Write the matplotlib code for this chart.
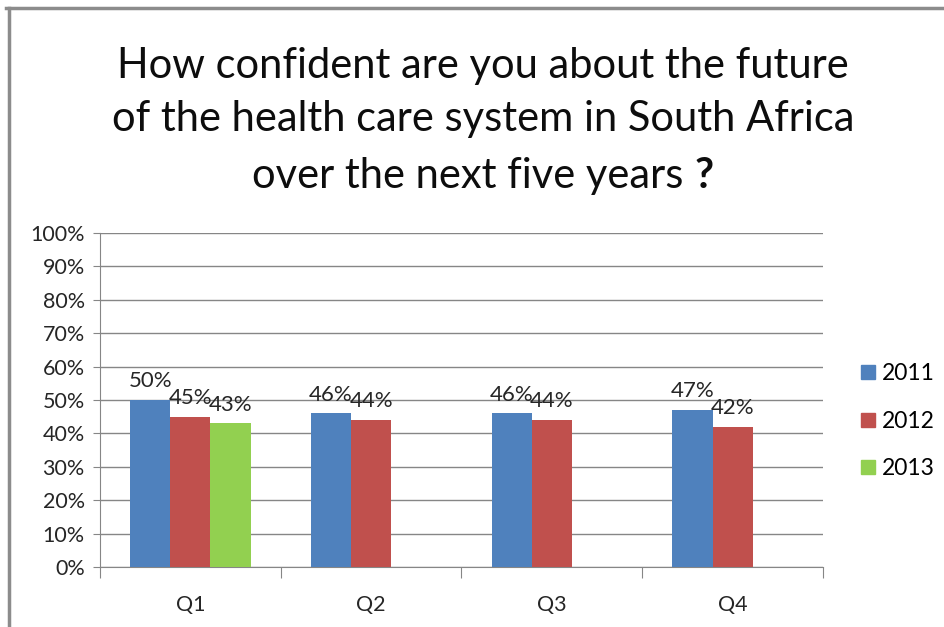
import matplotlib
matplotlib.use('Agg')
import matplotlib.pyplot as plt
from matplotlib.lines import Line2D
import numpy as np

plt.rcParams['font.family'] = ['Lato', 'DejaVu Sans']

# chart data
categories = ['Q1', 'Q2', 'Q3', 'Q4']
years = ['2011', '2012', '2013']
values = {
    '2011': [50, 46, 46, 47],
    '2012': [45, 44, 44, 42],
    '2013': [43, None, None, None],
}
colors = ['#4F81BD', '#C0504D', '#92D050']
yticks = [0, 10, 20, 30, 40, 50, 60, 70, 80, 90, 100]
title_lines = ['How confident are you about the future',
               'of the health care system in South Africa',
               'over the next five years']

fig = plt.figure(figsize=(9.45, 6.27), dpi=100)
ax = fig.add_axes([0.1058, 0.0957, 0.7651, 0.5327])

grid_col = '#868686'
txt_col = '#262626'
width = 1 / 4.5
x = np.arange(len(categories))
for i, yr in enumerate(years):
    xs = [x[j] + (i - 1) * width for j, v in enumerate(values[yr]) if v is not None]
    vs = [v for v in values[yr] if v is not None]
    ax.bar(xs, vs, width=width, color=colors[i], label=yr, zorder=3)
    for xx, vv in zip(xs, vs):
        ax.text(xx, vv + 2.6, f'{vv}%', ha='center', va='bottom',
                fontsize=16, color=txt_col, zorder=4)

ax.set_xlim(-0.5, len(categories) - 0.5)
ax.set_ylim(0, 100)
ax.set_yticks(yticks)
ax.set_yticklabels([f'{t}%' for t in yticks], fontsize=15.5, color=txt_col)
ax.yaxis.grid(True, color=grid_col, linewidth=1, zorder=0)
ax.set_axisbelow(True)

# categories as minor ticks, boundaries as major ticks
ax.set_xticks(np.arange(len(categories) + 1) - 0.5)
ax.set_xticklabels([])
ax.set_xticks(x, minor=True)
ax.set_xticklabels(categories, minor=True, fontsize=15.5, color=txt_col)
ax.tick_params(axis='x', which='major', length=8, color=grid_col, direction='out')
ax.tick_params(axis='x', which='minor', length=0, pad=20)
ax.tick_params(axis='y', length=5, color=grid_col, pad=6)

for s in ['top', 'right']:
    ax.spines[s].set_visible(False)
for s in ['left', 'bottom']:
    ax.spines[s].set_color(grid_col)

handles = [Line2D([], [], marker='s', linestyle='none', markersize=10,
                  markerfacecolor=c, markeredgecolor=c) for c in colors]
fig.legend(handles, years, loc='center left', bbox_to_anchor=(0.887, 0.328),
           frameon=False, fontsize=16.5, labelspacing=1.15, handletextpad=0.2,
           handlelength=0.8)

# title
ys = [0.895, 0.81, 0.72]
for line, yy in zip(title_lines[:2], ys[:2]):
    fig.text(0.511, yy, line, ha='center', va='center', fontsize=30, color='#0d0d0d')
t3 = fig.text(0, ys[2], title_lines[2], ha='left', va='center', fontsize=30, color='#0d0d0d')
q = fig.text(0, ys[2], '?', ha='left', va='center', fontsize=30,
             fontweight='bold', color='#0d0d0d')
fig.canvas.draw()
W = fig.bbox.width
w3 = t3.get_window_extent().width / W
wq = q.get_window_extent().width / W
gap = 0.011
x0 = 0.511 - (w3 + gap + wq) / 2
t3.set_x(x0)
q.set_x(x0 + w3 + gap)

# outer frame (top and left only visible)
fig.add_artist(Line2D([0.006, 1.0], [0.987, 0.987], color='#8c8c8c', linewidth=2.5,
                      transform=fig.transFigure))
fig.add_artist(Line2D([0.009, 0.009], [0.0, 0.987], color='#8c8c8c', linewidth=2.5,
                      transform=fig.transFigure))

fig.savefig('out.png', dpi=100)
